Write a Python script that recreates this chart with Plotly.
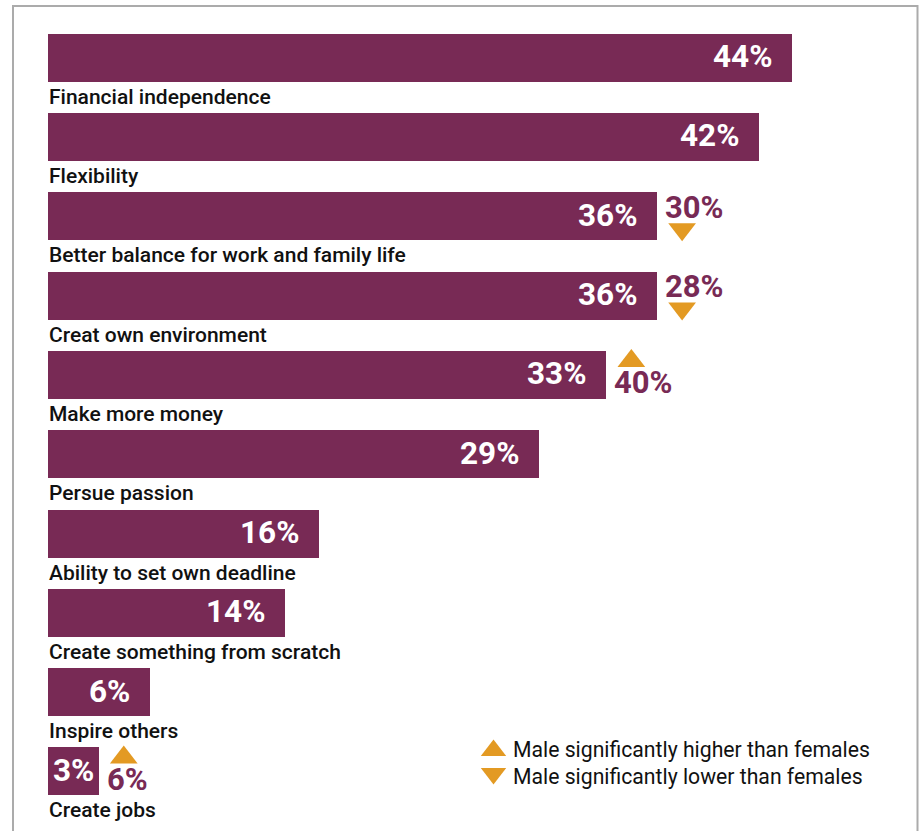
import plotly.graph_objects as go

# ---------------- data ----------------
categories = [
    "Financial independence",
    "Flexibility",
    "Better balance for work and family life",
    "Creat own environment",
    "Make more money",
    "Persue passion",
    "Ability to set own deadline",
    "Create something from scratch",
    "Inspire others",
    "Create jobs",
]
female_pct = [44, 42, 36, 36, 33, 29, 16, 14, 6, 3]
male_pct = [None, None, 30, 28, 40, None, None, None, None, 6]
legend_labels = [
    "Male significantly higher than females",
    "Male significantly lower than females",
]

# ---------------- style ----------------
BAR = "#782A55"
ORANGE = "#E39A23"
TXT = "#111111"
FONT = "Roboto"

W, H = 920, 831
L, R, T, B = 48, 26, 18, 4
XMAX = 50
YMIN, YMAX = -0.5, 9.7
PXX = (W - L - R) / XMAX
PXY = (H - T - B) / (YMAX - YMIN)
BAR_W = 48 / PXY

idx = list(range(len(categories)))

fig = go.Figure()
fig.add_trace(go.Bar(
    x=female_pct, y=idx, orientation="h", width=BAR_W,
    marker=dict(color=BAR, line=dict(width=0)),
    hoverinfo="skip", showlegend=False,
))

ann = []
up_x, up_y, dn_x, dn_y = [], [], [], []
for i, (cat, v, m) in enumerate(zip(categories, female_pct, male_pct)):
    # category label under bar
    ann.append(dict(x=0, y=i, xref="x", yref="y", text=cat, showarrow=False,
                    xanchor="left", yanchor="middle", xshift=-1, yshift=-39,
                    font=dict(family=FONT, size=21, color=TXT, weight=500)))
    # value inside bar
    bar_px = v * PXX
    if bar_px > 80:
        ann.append(dict(x=v, y=i, xref="x", yref="y", text=f"{v}%", showarrow=False,
                        xanchor="right", yanchor="middle", xshift=-18, yshift=1,
                        font=dict(family=FONT, size=31.5, color="white", weight="bold")))
    else:
        ann.append(dict(x=v / 2, y=i, xref="x", yref="y", text=f"{v}%", showarrow=False,
                        xanchor="center", yanchor="middle", yshift=1,
                        font=dict(family=FONT, size=31.5, color="white", weight="bold")))
    if m is not None:
        lower = m < v
        ann.append(dict(x=v, y=i, xref="x", yref="y", text=f"{m}%", showarrow=False,
                        xanchor="left", yanchor="middle", xshift=6,
                        yshift=9 if lower else -8,
                        font=dict(family=FONT, size=31, color=BAR, weight="bold")))
        tx = v + 25 / PXX
        if lower:
            dn_x.append(tx); dn_y.append(i + 13 / PXY)
        else:
            up_x.append(tx); up_y.append(i - 14 / PXY)

fig.add_trace(go.Scatter(x=up_x, y=up_y, mode="markers", cliponaxis=False,
                         marker=dict(symbol="triangle-up", size=24, color=ORANGE, line=dict(width=0)),
                         hoverinfo="skip", showlegend=False))
fig.add_trace(go.Scatter(x=dn_x, y=dn_y, mode="markers", cliponaxis=False,
                         marker=dict(symbol="triangle-down", size=24, color=ORANGE, line=dict(width=0)),
                         hoverinfo="skip", showlegend=False))


# legend (manual)
def xd(px):
    return (px - L) / PXX


def yd(py):
    return (py - T) / PXY + YMIN


leg_rows = [(legend_labels[0], "triangle-up", 750.5, 749.5),
            (legend_labels[1], "triangle-down", 773.5, 776)]
for text, sym, my, ty in leg_rows:
    fig.add_trace(go.Scatter(x=[xd(493.5)], y=[yd(my)], mode="markers", cliponaxis=False,
                             marker=dict(symbol=sym, size=22, color=ORANGE, line=dict(width=0)),
                             hoverinfo="skip", showlegend=False))
    ann.append(dict(x=xd(511), y=yd(ty), xref="x", yref="y", text=text, showarrow=False,
                    xanchor="left", yanchor="middle",
                    font=dict(family=FONT, size=21.2, color=TXT)))

pw, ph = W - L - R, H - T - B
border = dict(
    type="path", xref="paper", yref="paper",
    path=(f"M {(13 - L) / pw} {-(H + 10 - T - ph) / ph} "
          f"L {(13 - L) / pw} {1 + (T - 6) / ph} "
          f"L {(917.5 - L) / pw} {1 + (T - 6) / ph} "
          f"L {(917.5 - L) / pw} {-(H + 10 - T - ph) / ph}"),
    line=dict(color="#ABABAB", width=2), layer="above",
)

fig.update_layout(
    width=W, height=H,
    margin=dict(l=L, r=R, t=T, b=B, pad=0),
    paper_bgcolor="white", plot_bgcolor="white",
    xaxis=dict(range=[0, XMAX], visible=False, fixedrange=True),
    yaxis=dict(range=[YMAX, YMIN], visible=False, fixedrange=True),
    annotations=ann, shapes=[border],
    bargap=0, showlegend=False,
)

fig.write_html("out.html", config={"displayModeBar": False})
